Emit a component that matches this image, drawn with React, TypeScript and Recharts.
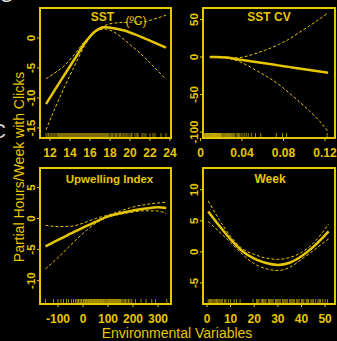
import React from "react";
import {
  ComposedChart,
  Line,
  Scatter,
  XAxis,
  YAxis,
  ReferenceArea,
} from "recharts";

const YEL = "#E6C600";
const FONT = "'Liberation Sans', Arial, Helvetica, sans-serif";

// ---- SST (ºC) ----
const sstX = [11.6, 12.5, 13.5, 14.5, 15.5, 16.5, 17.5, 18.5, 19.5, 20.5, 21.5, 22.5, 23.6];
const sstFit = [-11.0, -8.6, -6.0, -3.4, -0.8, 1.1, 1.8, 1.6, 1.2, 0.6, -0.1, -0.8, -1.6];
const sstUpper = [-6.8, -5.8, -4.5, -2.6, -0.5, 1.1, 2.1, 2.5, 2.6, 2.65, 2.75, 3.2, 3.8];
const sstLower = [-15.3, -11.7, -8.0, -4.5, -1.2, 1.0, 1.5, 0.9, -0.4, -1.8, -3.3, -5.0, -6.9];
const sstRug = [
  11.6, 11.8, 11.9, 12.1, 12.2, 12.4, 12.5, 12.7, 12.8, 12.9, 13.0, 13.1, 13.2, 13.3,
  13.4, 13.5, 13.6, 13.7, 13.8, 13.9, 14.0, 14.1, 14.2, 14.3, 14.4, 14.5, 14.6, 14.7,
  14.8, 14.9, 15.0, 15.1, 15.2, 15.3, 15.4, 15.5, 15.6, 15.7, 15.8, 15.9, 16.0, 16.1,
  16.2, 16.3, 16.4, 16.5, 16.6, 16.7, 16.8, 16.9, 17.0, 17.1, 17.2, 17.3, 17.4, 17.5,
  17.6, 17.7, 17.8, 17.9, 18.1, 18.2, 18.3, 18.5, 18.6, 18.7, 18.9, 19.0, 19.1, 19.3,
  19.4, 19.6, 19.7, 19.9, 20.1, 20.2, 20.5, 20.7, 20.8, 21.2, 21.4, 21.6, 22.0, 22.3,
  22.5, 23.1, 23.6,
];
const sstXTicks = [12, 14, 16, 18, 20, 22, 24];
const sstYTicks = [-15, -10, -5, 0];

// ---- SST CV ----
const cvX = [0.009, 0.015, 0.025, 0.035, 0.045, 0.055, 0.065, 0.075, 0.085, 0.095, 0.105, 0.115, 0.123];
const cvFit = [0, 0, -0.8, -3.0, -5.0, -7.1, -9.1, -11.2, -13.2, -15.3, -17.3, -19.4, -21];
const cvUpper = [0.5, 0.5, -0.2, -1.0, 1.2, 5.5, 10.5, 16.5, 23.5, 32.5, 41.5, 51, 59];
const cvLower = [-0.5, -0.6, -1.5, -5.0, -11, -19, -27, -36, -47.5, -59.5, -72, -86, -99.5];
const cvRug = [
  0.004, 0.0045, 0.005, 0.0055, 0.006, 0.0065, 0.007, 0.0075, 0.008, 0.0085, 0.009,
  0.0095, 0.01, 0.0105, 0.011, 0.0115, 0.012, 0.0125, 0.013, 0.0135, 0.014, 0.0145,
  0.015, 0.0155, 0.016, 0.0165, 0.017, 0.0175, 0.018, 0.0185, 0.019, 0.0195, 0.02,
  0.021, 0.022, 0.023, 0.024, 0.025, 0.026, 0.027, 0.028, 0.029, 0.03, 0.031, 0.032,
  0.033, 0.035, 0.036, 0.037, 0.038, 0.04, 0.042, 0.044, 0.046, 0.049, 0.053, 0.058,
  0.073, 0.079, 0.083, 0.122,
];
const cvXTicks = [0, 0.04, 0.08, 0.12];
const cvYTicks = [-100, -50, 0, 50];

// ---- Upwelling Index ----
const upX = [-150, -100, -50, 0, 50, 100, 150, 200, 250, 300, 333];
const upFit = [-4.5, -3.45, -2.45, -1.45, -0.55, 0.35, 0.85, 1.3, 1.6, 1.8, 1.7];
const upUpper = [-1.1, -1.3, -1.25, -0.75, 0.0, 0.55, 1.2, 1.85, 2.25, 2.5, 2.6];
const upLower = [-8.1, -6.3, -4.3, -2.4, -0.8, 0.25, 0.7, 1.05, 1.25, 1.2, 0.8];
const upRug = [
  -150, -118, -100, -88, -78, -66, -58, -46, -38, -30, -24, -20, -18, -12, -8, -6, 0, 3,
  5, 10, 13, 16, 19, 22, 25, 28, 31, 34, 37, 40, 43, 46, 49, 52, 55, 58, 61, 64, 67, 70,
  73, 76, 79, 82, 85, 88, 92, 95, 99, 102, 106, 110, 114, 118, 122, 126, 130, 134, 138,
  142, 146, 150, 155, 160, 165, 170, 176, 182, 188, 195, 210, 232, 252, 275, 290, 335,
];
const upXTicks = [-100, 0, 100, 200, 300];
const upYTicks = [-10, -5, 0, 5];

// ---- Week ----
const wkX = [0.5, 5, 10, 15, 20, 25, 30, 35, 40, 45, 51.5];
const wkFit = [6.5, 4.3, 2.0, 0.1, -1.1, -1.8, -2.1, -1.75, -0.7, 0.8, 3.3];
const wkUpper = [8.2, 5.3, 2.5, 0.5, -0.4, -1.0, -1.2, -0.9, -0.1, 1.4, 4.5];
const wkLower = [4.9, 3.3, 1.5, -0.4, -1.9, -2.7, -3.0, -2.5, -1.2, 0.2, 2.1];
const wkRug = [
  0.5, 1, 1.5, 2, 2.5, 3, 3.5, 4, 4.5, 5, 5.5, 6, 6.5, 7.5, 8, 9, 10, 11.5, 12.5, 14,
  19.5, 21, 21.5, 22, 23, 23.5, 24, 24.5, 25, 26, 26.5, 27, 27.5, 28, 29, 29.5, 30, 30.5,
  31, 32, 32.5, 33, 33.5, 34, 35, 35.5, 36, 36.5, 37, 38, 38.5, 39, 40, 40.5, 41, 42,
  42.5, 43, 44, 44.5, 45, 46, 47, 47.5, 48, 49, 50, 51,
];
const wkXTicks = [0, 10, 20, 30, 40, 50];
const wkYTicks = [-5, 0, 5, 10];

const YW = 40; // y axis width
const MT = 4;
const MR = 14;
const XH = 34;

type PanelProps = {
  left: number;
  top: number;
  w: number;
  h: number;
  xDomain: [number, number];
  yDomain: [number, number];
  xTicks: number[];
  yTicks: number[];
  xs: number[];
  fit: number[];
  upper: number[];
  lower: number[];
  rug: number[];
};

const XTick = (p: any) => (
  <text
    x={p.x}
    y={p.y + 13.5}
    textAnchor="middle"
    fill={YEL}
    fontSize={12}
    fontWeight="bold"
    fontFamily={FONT}
  >
    {String(p.payload.value)}
  </text>
);

const YTick = (p: any) => (
  <text
    x={p.x}
    y={p.y}
    transform={`rotate(-90 ${p.x} ${p.y})`}
    textAnchor="middle"
    fill={YEL}
    fontSize={11.5}
    fontWeight="bold"
    fontFamily={FONT}
  >
    {String(p.payload.value)}
  </text>
);

const RugMark = (p: any) => (
  <line
    x1={p.cx}
    x2={p.cx}
    y1={p.cy}
    y2={p.cy - 5}
    stroke={YEL}
    strokeOpacity={0.85}
    strokeWidth={0.8}
  />
);

function Panel(props: PanelProps) {
  const { left, top, w, h, xDomain, yDomain, xTicks, yTicks } = props;
  const rows = props.xs.map((x, i) => ({
    x,
    fit: props.fit[i],
    upper: props.upper[i],
    lower: props.lower[i],
  }));
  const rugRows = props.rug.map((x) => ({ x, y: yDomain[0] }));

  return (
    <div style={{ position: "absolute", left: left - YW, top: top - MT }}>
      <ComposedChart
        width={YW + w + MR}
        height={MT + h + XH}
        data={rows}
        margin={{ top: MT, right: MR, bottom: 0, left: 0 }}
      >
        <XAxis
          type="number"
          dataKey="x"
          domain={xDomain}
          ticks={xTicks}
          interval={0}
          allowDataOverflow
          height={XH}
          tickSize={3}
          axisLine={false}
          tickLine={{ stroke: YEL }}
          tick={XTick}
        />
        <YAxis
          type="number"
          domain={yDomain}
          ticks={yTicks}
          interval={0}
          allowDataOverflow
          width={YW}
          tickSize={3}
          axisLine={false}
          tickLine={{ stroke: YEL }}
          tick={YTick}
        />
        <ReferenceArea
          x1={xDomain[0]}
          x2={xDomain[1]}
          y1={yDomain[0]}
          y2={yDomain[1]}
          fill="none"
          fillOpacity={0}
          stroke={YEL}
          strokeWidth={2}
        />
        <Line
          dataKey="upper"
          type="monotone"
          stroke={YEL}
          strokeWidth={1}
          strokeDasharray="3 2"
          dot={false}
          isAnimationActive={false}
        />
        <Line
          dataKey="lower"
          type="monotone"
          stroke={YEL}
          strokeWidth={1}
          strokeDasharray="3 2"
          dot={false}
          isAnimationActive={false}
        />
        <Line
          dataKey="fit"
          type="monotone"
          stroke={YEL}
          strokeWidth={2.5}
          dot={false}
          isAnimationActive={false}
        />
        <Scatter
          data={rugRows}
          dataKey="y"
          shape={RugMark}
          isAnimationActive={false}
        />
      </ComposedChart>
    </div>
  );
}

export default function App() {
  const txt = { fill: YEL, fontFamily: FONT } as const;
  return (
    <div
      style={{
        position: "absolute",
        left: 0,
        top: 0,
        width: 337,
        height: 341,
        background: "#000",
        overflow: "hidden",
      }}
    >
      <Panel
        left={40}
        top={8}
        w={131}
        h={130}
        xDomain={[11.0, 24.1]}
        yDomain={[-16.67, 5]}
        xTicks={sstXTicks}
        yTicks={sstYTicks}
        xs={sstX}
        fit={sstFit}
        upper={sstUpper}
        lower={sstLower}
        rug={sstRug}
      />
      <Panel
        left={203}
        top={8}
        w={132}
        h={130}
        xDomain={[0.0024, 0.1296]}
        yDomain={[-108, 65.3]}
        xTicks={cvXTicks}
        yTicks={cvYTicks}
        xs={cvX}
        fit={cvFit}
        upper={cvUpper}
        lower={cvLower}
        rug={cvRug}
      />
      <Panel
        left={40}
        top={168}
        w={131}
        h={136}
        xDomain={[-172, 352]}
        yDomain={[-13.76, 8.13]}
        xTicks={upXTicks}
        yTicks={upYTicks}
        xs={upX}
        fit={upFit}
        upper={upUpper}
        lower={upLower}
        rug={upRug}
      />
      <Panel
        left={203}
        top={168}
        w={132}
        h={136}
        xDomain={[-1.7, 54.2]}
        yDomain={[-8.39, 13.5]}
        xTicks={wkXTicks}
        yTicks={wkYTicks}
        xs={wkX}
        fit={wkFit}
        upper={wkUpper}
        lower={wkLower}
        rug={wkRug}
      />
      <svg
        width={337}
        height={341}
        style={{ position: "absolute", left: 0, top: 0, pointerEvents: "none" }}
      >
        <text x={-1} y={2} fontSize={20} fill="#dddddd" fontFamily={FONT}>C</text>
        <text x={6} y={137.5} fontSize={20} fill="#dddddd" fontFamily={FONT} textAnchor="end">C</text>
        <text x={102.5} y={20.5} fontSize={12} fontWeight="bold" textAnchor="middle" {...txt}>SST</text>
        <text x={136} y={25} fontSize={12} textAnchor="middle" {...txt}>(ºC)</text>
        <text x={269} y={20.5} fontSize={12} fontWeight="bold" textAnchor="middle" {...txt}>SST CV</text>
        <text x={109.5} y={182.5} fontSize={11.5} fontWeight="bold" textAnchor="middle" {...txt}>Upwelling Index</text>
        <text x={270} y={182.5} fontSize={12} fontWeight="bold" textAnchor="middle" {...txt}>Week</text>
        <text
          x={24}
          y={167}
          transform="rotate(-90 24 167)"
          fontSize={14}
          textAnchor="middle"
          {...txt}
        >
          Partial Hours/Week with Clicks
        </text>
        <text x={177} y={337.5} fontSize={14} textAnchor="middle" {...txt}>
          Environmental Variables
        </text>
      </svg>
    </div>
  );
}
